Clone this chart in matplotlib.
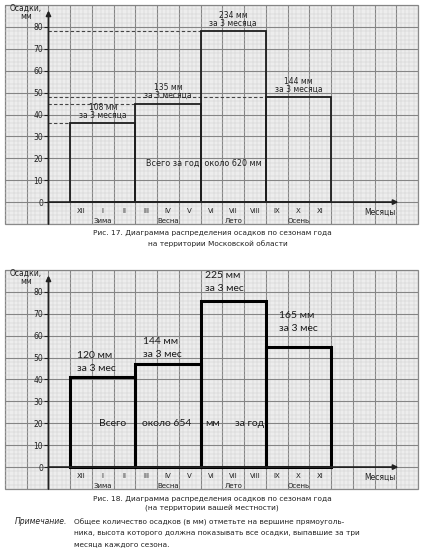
import matplotlib
matplotlib.use("Agg")
import matplotlib.pyplot as plt
import numpy as np

W, H = 424, 551
fig = plt.figure(figsize=(W / 100, H / 100), dpi=100)
fig.patch.set_facecolor("white")

# ---------------- data ----------------
months = ["XII", "I", "II", "III", "IV", "V", "VI", "VII", "VIII", "IX", "X", "XI"]
seasons = ["Зима", "Весна", "Лето", "Осень"]
season_start = [1, 4, 7, 10]
yticks = [0, 10, 20, 30, 40, 50, 60, 70, 80]
moscow_heights = [36, 45, 78, 48]
moscow_totals = [108, 135, 234, 144]
moscow_year = 620
local_heights = [41, 47, 76, 55]
local_totals = [120, 144, 225, 165]
local_year = 654

FONT = "DejaVu Sans"
INK = "#222222"


def px_axes(x0, y0, x1, y1):
    return fig.add_axes([x0 / W, 1 - y1 / H, (x1 - x0) / W, (y1 - y0) / H])


def paper(ax):
    ax.set_xlim(-2, 17)
    ax.set_ylim(-10, 90)
    ax.set_facecolor("#ededed")
    ax.patch.set_edgecolor("#8a8a8a")
    ax.patch.set_linewidth(0.9)
    for i in range(0, 96):
        v = -2 + i * 0.2
        if i % 5 == 0:
            c, lw = "#858585", 0.8
        else:
            c, lw = "#cdcdcd", 0.35
        ax.axvline(v, color=c, lw=lw, zorder=0)
    for i in range(0, 51):
        v = -10 + i * 2
        if i % 5 == 0:
            c, lw = "#858585", 0.8
        else:
            c, lw = "#cdcdcd", 0.35
        ax.axhline(v, color=c, lw=lw, zorder=0)
    for s in ax.spines.values():
        s.set_visible(False)
    ax.spines["left"].set_position(("data", 0))
    ax.spines["bottom"].set_position(("data", 0))
    ax.set_yticks(yticks)
    ax.tick_params(axis="y", direction="out", length=3, width=0.8, labelsize=5.5,
                   pad=1, colors=INK)
    ax.set_xticks(np.arange(len(months)) + 1.5, months)
    ax.tick_params(axis="x", length=0, labelsize=5, pad=4, colors=INK)
    # axes with arrows
    ax.annotate("", xy=(0, 87.5), xytext=(0, -10),
                arrowprops=dict(arrowstyle="-|>", lw=1.3, color=INK,
                                mutation_scale=7, shrinkA=0, shrinkB=0), zorder=5)
    ax.annotate("", xy=(16.1, 0), xytext=(0, 0),
                arrowprops=dict(arrowstyle="-|>", lw=1.3, color=INK,
                                mutation_scale=7, shrinkA=0, shrinkB=0), zorder=5)
    ax.text(-1.05, 88.3, "Осадки,", fontsize=5.5, ha="center", va="center",
            color=INK, family=FONT)
    ax.text(-1.05, 84.6, "мм", fontsize=5.5, ha="center", va="center",
            color=INK, family=FONT)
    for i, s in enumerate(seasons):
        ax.text(season_start[i] + 1.5, -8.6, s, fontsize=5, ha="center",
                va="center", color=INK, family=FONT)
    ax.text(15.25, -4.5, "Месяцы", fontsize=5.5, ha="center", va="center",
            color=INK, family=FONT)


# ---------------- chart 1 ----------------
ax1 = px_axes(5, 5, 418, 224)
paper(ax1)
ax1.bar(season_start, moscow_heights, width=3, align="edge", fill=False,
        edgecolor="#1e1e1e", linewidth=1.3, zorder=3)
for x0, h in zip(season_start, moscow_heights):
    ax1.plot([0, x0], [h, h], ls=(0, (3, 2)), color="#444444", lw=0.8, zorder=2)
for x0, h, t in zip(season_start, moscow_heights, moscow_totals):
    ax1.text(x0 + 1.5, h + 7.2, f"{t} мм", fontsize=5.5, ha="center",
             va="center", color=INK, family=FONT)
    ax1.text(x0 + 1.5, h + 3.6, "за 3 месяца", fontsize=5.5, ha="center",
             va="center", color=INK, family=FONT)
ax1.text(7.15, 17.8, f"Всего за год  около {moscow_year} мм", fontsize=5.8,
         ha="center", va="center", color=INK, family=FONT)

# ---------------- chart 2 ----------------
ax2 = px_axes(5, 270, 418, 489)
paper(ax2)
ax2.bar(season_start, local_heights, width=3, align="edge", fill=False,
        edgecolor="black", linewidth=2.2, zorder=3)
HAND = "Lato"
label_pos = [(1.3, 51.0), (4.35, 57.5), (7.2, 87.7), (10.6, 69.4)]
for (lx, ly), t in zip(label_pos, local_totals):
    ax2.text(lx, ly, f"{t} мм", fontsize=7.5, ha="left", va="center",
             color="#1a1a1a", family=HAND)
    ax2.text(lx, ly - 6.2, "за 3 мес", fontsize=7.5, ha="left", va="center",
             color="#1a1a1a", family=HAND)
for x, s in [(2.97, "Всего"), (5.45, f"около {local_year}"), (7.57, "мм"),
             (9.27, "за год")]:
    ax2.text(x, 20, s, fontsize=7.5, ha="center", va="center",
             color="#1a1a1a", family=HAND)


# ---------------- captions ----------------
def ftext(x, y, s, **kw):
    fig.text(x / W, 1 - y / H, s, family=FONT, color=INK, **kw)


ftext(212, 233, "Рис. 17. Диаграмма распределения осадков по сезонам года",
      fontsize=5.3, ha="center", va="center")
ftext(218, 244, "на территории Московской области", fontsize=5.3,
      ha="center", va="center")
ftext(212, 499, "Рис. 18. Диаграмма распределения осадков по сезонам года",
      fontsize=5.3, ha="center", va="center")
ftext(212, 509, "(на территории вашей местности)", fontsize=5.3,
      ha="center", va="center")
ftext(15, 522, "Примечание.", fontsize=5.5, ha="left", va="center", style="italic")
ftext(74, 522, "Общее количество осадков (в мм) отметьте на вершине прямоуголь-",
      fontsize=5.3, ha="left", va="center")
ftext(74, 533, "ника, высота которого должна показывать все осадки, выпавшие за три",
      fontsize=5.3, ha="left", va="center")
ftext(74, 544, "месяца каждого сезона.", fontsize=5.3, ha="left", va="center")

fig.savefig("out.png", dpi=100, facecolor="white")
